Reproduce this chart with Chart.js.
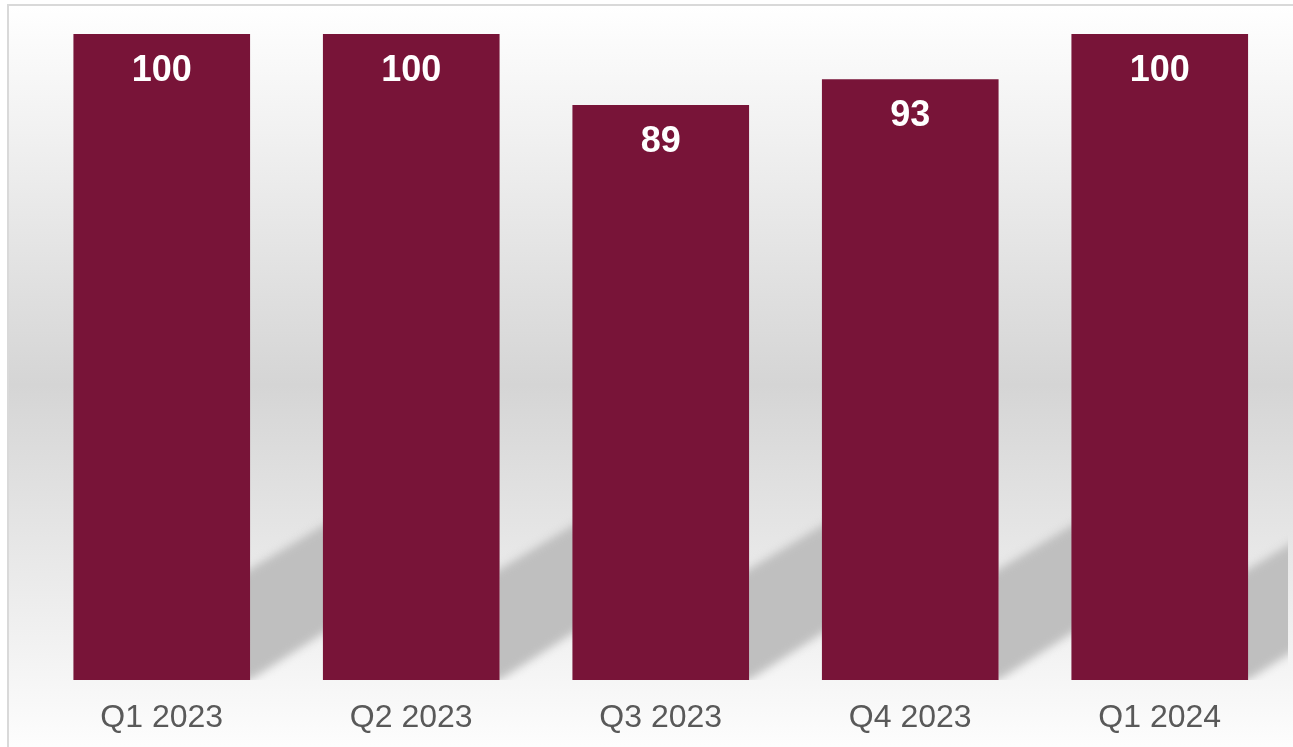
<!DOCTYPE html>
<html>
<head>
<meta charset="utf-8">
<title>Quarterly score</title>
<script src="https://cdn.jsdelivr.net/npm/chart.js@4"></script>
<style>
  html, body { margin: 0; padding: 0; background: #ffffff; overflow: hidden; }
  #stage { position: relative; width: 1293px; height: 747px; overflow: hidden; }
  #frame {
    position: absolute; left: 7px; top: 4px;
    width: 1320px; height: 758px;
    border: 2px solid #d9d9d9;
    background: linear-gradient(to bottom, #ffffff 0%, #d5d5d5 50%, #ffffff 100%);
  }
  #wrap { position: absolute; left: 0; top: 0; width: 1293px; height: 747px; }
</style>
</head>
<body>
<div id="stage">
  <div id="frame"></div>
  <div id="wrap"><canvas id="chart"></canvas></div>
</div>
<script>
// Quarters shown along the x axis
const categories = ['Q1 2023', 'Q2 2023', 'Q3 2023', 'Q4 2023', 'Q1 2024'];
// Score per quarter
const scores = [100, 100, 89, 93, 100];
// Value range of the hidden y axis
const yRange = [0, 100];

const BAR_COLOR = '#781438';
const FONT = '"Liberation Sans", Arial, Helvetica, sans-serif';

// Slanted floor shadow behind each bar, cut off where the next bar begins
const barShadows = {
  id: 'barShadows',
  beforeDatasetsDraw(chart) {
    const ctx = chart.ctx;
    const area = chart.chartArea;
    const bars = chart.getDatasetMeta(0).data;
    bars.forEach((bar, i) => {
      const half = bar.width / 2;
      const left = bar.x - half;
      const right = bar.x + half;
      const base = bar.base;
      const next = bars[i + 1];
      const clipRight = next ? next.x : area.right + 3.5;
      const reach = 600;
      ctx.save();
      ctx.beginPath();
      ctx.rect(right, area.top, clipRight - right, base - area.top);
      ctx.clip();
      ctx.filter = 'blur(4px)';
      ctx.fillStyle = '#bfbfbf';
      ctx.beginPath();
      ctx.moveTo(left - 8, base);
      ctx.lineTo(right, base);
      ctx.lineTo(right + reach, base - reach * 0.64);
      ctx.lineTo(left - 8 + reach, base - reach * 0.6);
      ctx.closePath();
      ctx.fill();
      ctx.restore();
    });
  }
};

// White value label near the top of each bar
const barValues = {
  id: 'barValues',
  afterDatasetsDraw(chart) {
    const ctx = chart.ctx;
    const meta = chart.getDatasetMeta(0);
    const values = chart.data.datasets[0].data;
    ctx.save();
    ctx.fillStyle = '#ffffff';
    ctx.font = 'bold 36px ' + FONT;
    ctx.textAlign = 'center';
    ctx.textBaseline = 'alphabetic';
    meta.data.forEach((bar, i) => {
      ctx.fillText(String(values[i]), bar.x, bar.y + 47);
    });
    ctx.restore();
  }
};

new Chart(document.getElementById('chart'), {
  type: 'bar',
  data: {
    labels: categories,
    datasets: [{
      data: scores,
      backgroundColor: BAR_COLOR,
      borderWidth: 0,
      barPercentage: 0.708,
      categoryPercentage: 1
    }]
  },
  options: {
    responsive: true,
    maintainAspectRatio: false,
    animation: false,
    layout: { padding: { left: 37, right: 8.5, top: 34, bottom: 9.6 } },
    plugins: {
      legend: { display: false },
      tooltip: { enabled: false }
    },
    scales: {
      x: {
        grid: { display: false, drawTicks: false },
        border: { display: false },
        afterFit(scale) { scale.height = 57.4; },
        ticks: {
          color: '#595959',
          padding: 19,
          font: { family: FONT, size: 32 }
        }
      },
      y: {
        display: false,
        min: yRange[0],
        max: yRange[1]
      }
    }
  },
  plugins: [barShadows, barValues]
});
</script>
</body>
</html>
